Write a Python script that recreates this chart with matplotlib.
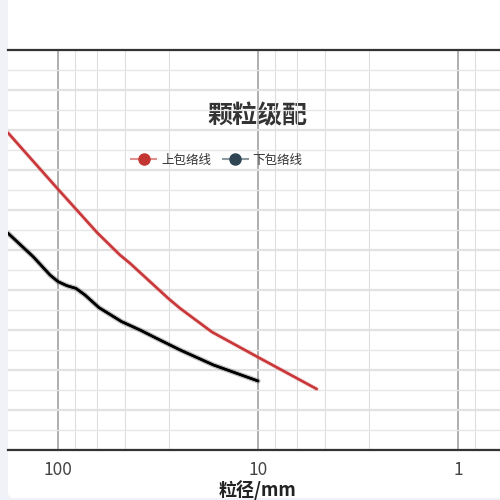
import matplotlib
matplotlib.use("Agg")
import matplotlib.pyplot as plt
import matplotlib.patheffects as pe
from matplotlib.patches import FancyBboxPatch
from matplotlib.lines import Line2D

plt.rcParams['font.family'] = ['Noto Sans CJK SC', 'DejaVu Sans']

title = "颗粒级配"
x_label = "粒径/mm"
series_names = ["上包络线", "下包络线"]
series_colors = ["#c23531", "#2f4554"]

# upper envelope (particle size mm, passing %)
upper_x = [177.8, 100, 81.9, 63.6, 49, 43.7, 28.1, 24.5, 17.0, 10, 5.09]
upper_y = [79.3, 65.2, 60.4, 54.3, 48.75, 46.7, 37.9, 35.4, 29.5, 23.2, 15.25]

# lower envelope
lower_x = [177.8, 132.9, 109.6, 100, 90.5, 81.3, 73.3, 62.4, 48.1, 38.9, 32.1, 24.5, 16.7, 10]
lower_y = [54.2, 48.3, 43.75, 42.1, 41.1, 40.4, 38.75, 35.6, 32.1, 30.0, 27.9, 25.0, 21.25, 17.25]

x_major = [100, 10, 1]
x_major_labels = ["100", "10", "1"]
x_minor = [82, 64, 46, 28, 8.2, 6.4, 4.6, 2.8, 0.82]

fig = plt.figure(figsize=(5, 5), dpi=100)
fig.patch.set_facecolor("#f1f2f8")
card = FancyBboxPatch((8/500, 2/500), 1.1, 1.1, boxstyle="round,pad=0,rounding_size=0.012",
                      transform=fig.transFigure, facecolor="white", edgecolor="none", zorder=-5)
fig.patches.append(card)

ax = fig.add_axes([8/500, 50/500, 492/500, 400/500])
ax.set_zorder(2)
ax.set_facecolor("none")
ax.set_xscale("log")
ax.set_xlim(177.8, 0.617)
ax.set_ylim(0, 100)

ax.set_xticks(x_major)
ax.set_xticklabels(x_major_labels)
ax.set_xticks(x_minor, minor=True)
ax.set_xticklabels([""] * len(x_minor), minor=True)
ax.set_yticks(range(0, 101, 10))
ax.set_yticks(range(5, 100, 10), minor=True)
ax.tick_params(axis='x', which='both', length=0, labelsize=12.5, labelcolor="#444444", pad=8)
ax.tick_params(axis='y', which='both', length=0, labelleft=False)

ax.grid(True, axis='x', which='major', color="#a8a8a8", linewidth=1.3, zorder=0)
ax.grid(True, axis='x', which='minor', color="#dddddd", linewidth=0.8, zorder=0)
ax.grid(True, axis='y', which='major', color="#e2e2e2", linewidth=1.6, zorder=0)
ax.grid(True, axis='y', which='minor', color="#e6e6e6", linewidth=0.9, zorder=0)
ax.set_axisbelow(True)

for s in ['left', 'right']:
    ax.spines[s].set_visible(False)
for s in ['top', 'bottom']:
    ax.spines[s].set_color("#333333")
    ax.spines[s].set_linewidth(1.6)

ax.plot(upper_x, upper_y, color="#c8383a", linewidth=1.6, solid_capstyle='round', solid_joinstyle='round',
        path_effects=[pe.withStroke(linewidth=3.0, foreground=(0.85, 0.3, 0.3, 0.3)), pe.Normal()], zorder=3)
ax.plot(lower_x, lower_y, color="#000000", linewidth=1.8, solid_capstyle='round', solid_joinstyle='round',
        path_effects=[pe.withStroke(linewidth=3.8, foreground=(0.3, 0.3, 0.3, 0.35)), pe.Normal()], zorder=3)

ax.set_xlabel(x_label, fontsize=13, fontweight='bold', color="#222222", labelpad=2)
ax.xaxis.set_label_coords((258 - 8) / 492, -30 / 400)

fig.text(257/500, 1 - 116/500, title, ha='center', va='center', fontsize=18, fontweight='bold',
         color="#333333", zorder=1)

handles = []
for c in series_colors:
    ln = Line2D([], [], color=c, linewidth=1.5, alpha=0.55)
    mk = Line2D([], [], color=c, marker='o', markersize=8, linestyle='none',
                markerfacecolor=c, markeredgecolor=c)
    handles.append((ln, mk))
leg = fig.legend(handles, series_names, loc='center', bbox_to_anchor=(217/500, 1 - 160/500), ncol=2,
                 frameon=False, fontsize=9, handlelength=2.0, handletextpad=0.4, columnspacing=0.9,
                 labelcolor="#333333")
leg.set_zorder(5)

fig.savefig("out.png", dpi=100, facecolor=fig.get_facecolor())
